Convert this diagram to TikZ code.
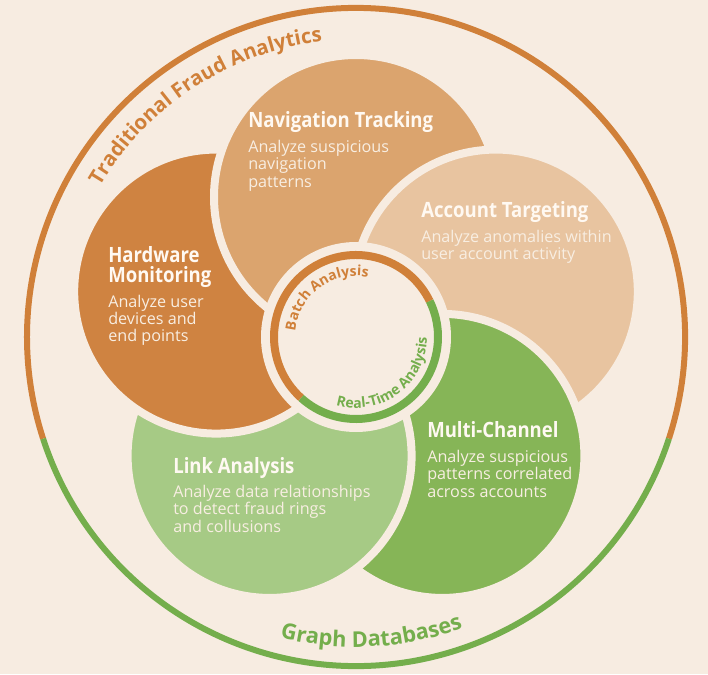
\documentclass[tikz,border=0pt]{standalone}
\usepackage{fontspec}
\setmainfont{Open Sans}
\newfontfamily\condfont{Open Sans}[FakeStretch=0.88]
\usetikzlibrary{decorations.text}
\definecolor{paper}{HTML}{F7ECE1}
\definecolor{ringorange}{HTML}{D08039}
\definecolor{ringgreen}{HTML}{74AE4C}
\definecolor{hwfill}{HTML}{CF8341}
\definecolor{navfill}{HTML}{DBA46E}
\definecolor{accfill}{HTML}{E8C4A0}
\definecolor{mcfill}{HTML}{86B557}
\definecolor{linkfill}{HTML}{A6CA85}
\definecolor{titleink}{HTML}{FFF9F2}
\definecolor{descink}{HTML}{F8EEE2}
\tikzset{
  petal/.style={draw=paper,line width=0.2cm},
  ringarc/.style={line width=0.15cm},
  hubarc/.style={line width=0.2cm},
  pettitle/.style={font=\condfont\bfseries\fontsize{15pt}{14.2pt}\selectfont,text=titleink,inner sep=0pt,anchor=base west},
  petdesc/.style={font=\fontsize{11.5pt}{12.3pt}\selectfont,text=descink,inner sep=0pt,align=left,anchor=north west}
}

\begin{document}
\begin{tikzpicture}[x=1cm,y=1cm]
  \fill[paper] (-8.9,-8.425) rectangle (8.8,8.425);
  \useasboundingbox (-8.9,-8.425) rectangle (8.8,8.425);

  % outer ring
  \draw[ringarc,ringorange] (-18:8.225) arc[start angle=-18,end angle=198,radius=8.225];
  \draw[ringarc,ringgreen] (198:8.225) arc[start angle=198,end angle=342,radius=8.225];

  % petals, each one laid over the one before
  \path[petal,fill=navfill] (90:3.5) circle (3.55);
  \path[petal,fill=accfill] (18:3.675) circle (3.55);
  \path[petal,fill=mcfill] (-54:3.675) circle (3.55);
  \path[petal,fill=linkfill] (-126:3.675) circle (3.55);
  \path[petal,fill=hwfill] (162:3.675) circle (3.55);
  \begin{scope}
    \clip (162:3.675) circle (3.72);
    \path[petal,fill=navfill] (90:3.5) circle (3.55);
  \end{scope}

  % hub
  \fill[paper] (0,0) circle (2.375);
  \draw[hubarc,ringorange] (26:2.05) arc[start angle=26,end angle=228,radius=2.05];
  \draw[hubarc,ringgreen] (228:2.05) arc[start angle=228,end angle=386,radius=2.05];

  % curved labels
  \path[decorate,decoration={text along path,text color=ringorange,text align=center,
    text={|\bfseries\fontsize{14.5pt}{16pt}\selectfont|Traditional Fraud Analytics}}]
    (180:7.43) arc[start angle=180,end angle=66,radius=7.43];
  \path[decorate,decoration={text along path,text color=ringgreen,text align=center,
    text={|\bfseries\fontsize{15.5pt}{17pt}\selectfont|Graph Databases}}]
    (-127:7.75) arc[start angle=-127,end angle=-47,radius=7.75];
  \path[decorate,decoration={text along path,text color=ringorange,text align=center,
    text={|\bfseries\fontsize{10pt}{12pt}\selectfont|Batch Analysis}}]
    (200:1.525) arc[start angle=200,end angle=53,radius=1.525];
  \path[decorate,decoration={text along path,text color=ringgreen,text align=center,
    text={|\bfseries\fontsize{10pt}{12pt}\selectfont|Real-Time Analysis}}]
    (-140:1.775) arc[start angle=-140,end angle=33,radius=1.775];

  % petal texts
  \node[pettitle] (navtitle) at (-2.70,5.25) {Navigation Tracking};
  \node[petdesc] (navdesc) at (-2.70,4.925) {Analyze suspicious\\navigation\\patterns};
  \node[pettitle] (acctitle) at (1.625,3.0) {Account Targeting};
  \node[petdesc] (accdesc) at (1.625,2.675) {Analyze anomalies within\\user account activity};
  \node[pettitle,anchor=north west,align=left] (hwtitle) at (-6.2,2.275) {Hardware\\Monitoring};
  \node[petdesc] (hwdesc) at (-6.2,1.06) {Analyze user\\devices and\\end points};
  \node[pettitle] (linktitle) at (-4.575,-3.4) {Link Analysis};
  \node[petdesc] (linkdesc) at (-4.575,-3.7) {Analyze data relationships\\to detect fraud rings\\and collusions};
  \node[pettitle] (mctitle) at (1.775,-2.5) {Multi-Channel};
  \node[petdesc] (mcdesc) at (1.775,-2.825) {Analyze suspicious\\patterns correlated\\across accounts};
\end{tikzpicture}
\end{document}
